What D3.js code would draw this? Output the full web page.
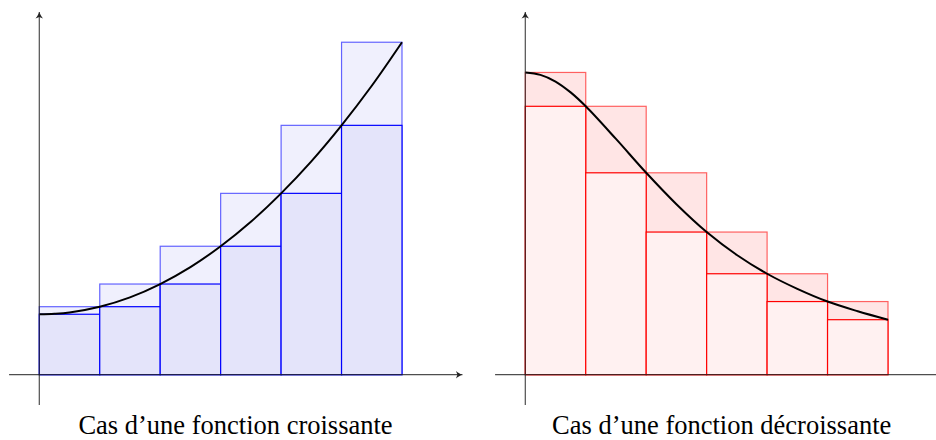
<!DOCTYPE html>
<html>
<head>
<meta charset="utf-8">
<script src="https://cdn.jsdelivr.net/npm/d3@7"></script>
<style>
  html, body { margin: 0; padding: 0; background: #fff; }
  svg { display: block; }
</style>
</head>
<body>
<svg id="chart" width="936" height="440"></svg>
<script>
// ---- Data ----
const subdivisions = [0, 1, 2, 3, 4, 5, 6];
// increasing function values at subdivision points
const incValues = [1.0, 1.125, 1.5, 2.125, 3.0, 4.125, 5.5];
// sample points of the increasing curve
const incCurveX = [0, 0.25, 0.5, 1, 1.5, 2, 2.5, 3, 3.5, 4, 4.5, 5, 5.5, 6];
const incCurveY = [1.0, 1.008, 1.03, 1.125, 1.28, 1.5, 1.78, 2.125, 2.53, 3.0, 3.53, 4.125, 4.78, 5.5];
// decreasing function values at subdivision points
const decValues = [5.0, 4.44, 3.34, 2.36, 1.67, 1.21, 0.91];
const decCurveX = [0, 0.25, 0.5, 0.75, 1, 1.5, 2, 2.5, 3, 3.5, 4, 4.5, 5, 5.5, 6];
const decCurveY = [5.0, 4.96, 4.85, 4.67, 4.44, 3.9, 3.34, 2.82, 2.36, 1.98, 1.67, 1.42, 1.21, 1.05, 0.91];
const captions = ["Cas d\u2019une fonction croissante", "Cas d\u2019une fonction d\u00e9croissante"];

const svg = d3.select("#chart");
const unit = 60.45;
const axisY = 374.7;

const defs = svg.append("defs");
defs.append("marker")
  .attr("id", "arrow")
  .attr("viewBox", "-8 -5 10 10")
  .attr("refX", 0).attr("refY", 0)
  .attr("markerUnits", "userSpaceOnUse")
  .attr("markerWidth", 10).attr("markerHeight", 10)
  .attr("orient", "auto")
  .append("path")
  .attr("d", "M0,0 C-2,-0.6 -4.5,-2.2 -6.5,-3.8 L-5,0 L-6.5,3.8 C-4.5,2.2 -2,0.6 0,0 Z")
  .attr("fill", "#222");

function panel(originX, values, curveX, curveY, increasing, upperFill, lowerFill, stroke, caption, captionX) {
  const x = d3.scaleLinear().domain([0, 1]).range([originX, originX + unit]);
  const y = d3.scaleLinear().domain([0, 1]).range([axisY, axisY - unit]);
  const g = svg.append("g");

  const steps = subdivisions.slice(0, -1).map((s, i) => ({
    x0: s, x1: subdivisions[i + 1],
    upper: increasing ? values[i + 1] : values[i],
    lower: increasing ? values[i] : values[i + 1]
  }));

  // upper (majorant) rectangles
  g.selectAll("rect.upper").data(steps).join("rect")
    .attr("class", "upper")
    .attr("x", d => x(d.x0)).attr("width", d => x(d.x1) - x(d.x0))
    .attr("y", d => y(d.upper)).attr("height", d => y(0) - y(d.upper))
    .attr("fill", upperFill).attr("stroke", stroke).attr("stroke-opacity", 0.6).attr("stroke-width", 1.2);

  // lower (minorant) rectangles
  g.selectAll("rect.lower").data(steps).join("rect")
    .attr("class", "lower")
    .attr("x", d => x(d.x0)).attr("width", d => x(d.x1) - x(d.x0))
    .attr("y", d => y(d.lower)).attr("height", d => y(0) - y(d.lower))
    .attr("fill", lowerFill).attr("stroke", stroke).attr("stroke-width", 1.2);

  // curve
  const pts = curveX.map((v, i) => [v, curveY[i]]);
  g.append("path")
    .datum(pts)
    .attr("d", d3.line().x(d => x(d[0])).y(d => y(d[1])).curve(d3.curveCatmullRom.alpha(0.5)))
    .attr("fill", "none").attr("stroke", "#000").attr("stroke-width", 2);

  // axes
  g.append("line")
    .attr("x1", x(-0.5)).attr("x2", x(7)).attr("y1", y(0)).attr("y2", y(0))
    .attr("stroke", "#222").attr("stroke-opacity", 0.8).attr("stroke-width", 1.2)
    .attr("marker-end", "url(#arrow)");
  g.append("line")
    .attr("x1", x(0)).attr("x2", x(0)).attr("y1", y(-0.5)).attr("y2", y(6))
    .attr("stroke", "#222").attr("stroke-opacity", 0.8).attr("stroke-width", 1.2)
    .attr("marker-end", "url(#arrow)");

  g.append("text")
    .attr("x", captionX).attr("y", 434)
    .attr("text-anchor", "middle")
    .attr("font-family", "'Liberation Serif', 'DejaVu Serif', serif")
    .attr("font-size", 26.5)
    .attr("fill", "#000")
    .text(caption);
}

panel(39.3, incValues, incCurveX, incCurveY, true, "#f0f0fd", "#e4e4fa", "#0000ff", captions[0], 235.5);
panel(525.3, decValues, decCurveX, decCurveY, false, "#ffe5e5", "#fff1f1", "#ff0000", captions[1], 721.7);
</script>
</body>
</html>
